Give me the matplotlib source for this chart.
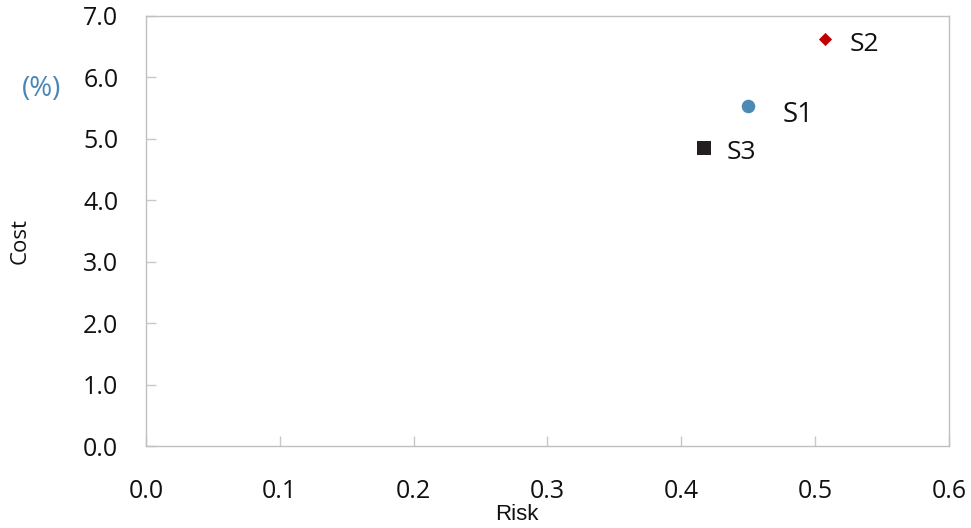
import matplotlib
matplotlib.use("Agg")
import matplotlib.pyplot as plt

# scenario data
names = ["S1", "S2", "S3"]
risk = [0.450, 0.507, 0.417]
cost = [5.53, 6.62, 4.85]
markers = ["o", "D", "s"]
colors = ["#4b8bb3", "#c00000", "#231f20"]
sizes = [95, 45, 110]
label_offsets = [(25, -6.5), (18, -4), (16, -3)]
label_sizes = [20, 19, 19]

xticks = [0.0, 0.1, 0.2, 0.3, 0.4, 0.5, 0.6]
yticks = [0.0, 1.0, 2.0, 3.0, 4.0, 5.0, 6.0, 7.0]

plt.rcParams['font.family'] = ['Open Sans', 'DejaVu Sans']

fig = plt.figure(figsize=(9.71, 5.28), dpi=100)
ax = fig.add_axes([0.1504, 0.1553, 0.8269, 0.8144])

for n, x, y, m, c, s, off, fs in zip(names, risk, cost, markers, colors, sizes,
                                      label_offsets, label_sizes):
    ax.scatter(x, y, marker=m, color=c, s=s, zorder=3, linewidths=0)
    ax.annotate(n, (x, y), xytext=off, textcoords="offset points",
                fontsize=fs, va="center", ha="left", color="#111111")

ax.set_xlim(0, 0.6)
ax.set_ylim(0, 7)
ax.set_xticks(xticks)
ax.set_yticks(yticks)
ax.set_xticklabels([f"{v:.1f}" for v in xticks])
ax.set_yticklabels([f"{v:.1f}" for v in yticks])
ax.tick_params(axis="x", direction="in", length=7, width=1, color="#c8c8c8",
               pad=24, labelsize=18, labelcolor="#111111")
ax.tick_params(axis="y", direction="in", length=7, width=1, color="#c8c8c8",
               pad=20, labelsize=18, labelcolor="#111111")
for sp in ax.spines.values():
    sp.set_color("#c0c0c0")
    sp.set_linewidth(1)

fig.text(517 / 971, 1 - 515 / 528, "Risk", family="Liberation Sans",
         fontsize=16, ha="center", va="center", color="#111111")
fig.text(20 / 971, 1 - 241 / 528, "Cost", fontsize=16, rotation=90,
         ha="center", va="center", color="#111111")
fig.text(42 / 971, 1 - 89 / 528, "(%)", fontsize=20, ha="center",
         va="center", color="#4a86b5")

fig.savefig("out.png", dpi=100)
